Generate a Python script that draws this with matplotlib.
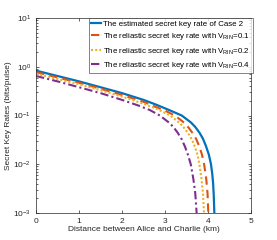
import matplotlib

matplotlib.use("Agg")
import matplotlib.pyplot as plt

plt.rcParams["font.family"] = ["Liberation Sans", "DejaVu Sans"]
plt.rcParams["mathtext.fontset"] = "custom"
plt.rcParams["mathtext.rm"] = "Liberation Sans"
plt.rcParams["mathtext.it"] = "Liberation Sans:italic"

# values (distance in km, key rate in bits/pulse)
dist_case2 = [0, 0.5, 1.0, 1.5, 2.0, 2.5, 2.8, 3.1, 3.39, 3.6, 3.7, 3.8, 3.88, 3.95, 4.02, 4.07,
              4.10, 4.12, 4.135, 4.15]
rate_case2 = [0.832, 0.646, 0.501, 0.380, 0.288, 0.209, 0.166, 0.129, 0.100, 0.0724, 0.0589,
              0.0447, 0.0339, 0.0240, 0.0158, 0.0100, 0.0063, 0.0040, 0.00224, 0.00089]

dist_rin01 = [0, 0.5, 1.0, 1.5, 2.0, 2.5, 2.8, 3.0, 3.23, 3.45, 3.55, 3.65, 3.73, 3.8, 3.86,
              3.91, 3.96, 3.99, 4.01]
rate_rin01 = [0.776, 0.603, 0.468, 0.355, 0.263, 0.191, 0.148, 0.126, 0.100, 0.0708, 0.0562,
              0.0427, 0.0324, 0.0229, 0.0158, 0.0100, 0.0050, 0.0025, 0.00089]

dist_rin02 = [0, 0.5, 1.0, 1.5, 2.0, 2.5, 2.8, 3.12, 3.35, 3.45, 3.55, 3.63, 3.7, 3.76, 3.8,
              3.85, 3.885, 3.91]
rate_rin02 = [0.724, 0.562, 0.437, 0.331, 0.245, 0.174, 0.138, 0.100, 0.0692, 0.0550, 0.0417,
              0.0316, 0.0224, 0.0151, 0.0100, 0.0050, 0.0025, 0.00089]

dist_rin04 = [0, 0.5, 1.0, 1.5, 2.0, 2.4, 2.65, 2.88, 3.1, 3.2, 3.3, 3.39, 3.47, 3.54, 3.6,
              3.66, 3.705, 3.74]
rate_rin04 = [0.646, 0.501, 0.380, 0.288, 0.209, 0.158, 0.129, 0.100, 0.0708, 0.0575, 0.0437,
              0.0324, 0.0224, 0.0151, 0.0100, 0.0050, 0.0025, 0.00089]

labels = [
    "The estimated secret key rate of Case 2",
    r"The reliastic secret key rate with V$_{\rm RIN}$=0.1",
    r"The reliastic secret key rate with V$_{\rm RIN}$=0.2",
    r"The reliastic secret key rate with V$_{\rm RIN}$=0.4",
]

fig = plt.figure(figsize=(2.77, 2.4), dpi=100)
ax = fig.add_axes([0.130, 0.1125, 0.776, 0.8125])

ax.plot(dist_case2, rate_case2, color="#0072BD", lw=1.6, ls="-", label=labels[0])
ax.plot(dist_rin01, rate_rin01, color="#D95319", lw=1.5, ls=(0, (4, 2.5)), label=labels[1])
ax.plot(dist_rin02, rate_rin02, color="#EDB120", lw=1.5, ls=(0, (1, 1)), label=labels[2])
ax.plot(dist_rin04, rate_rin04, color="#7E2F8E", lw=1.5, ls=(0, (4, 1.5, 1, 1.5)), label=labels[3])

ax.set_yscale("log")
ax.set_xlim(0, 5)
ax.set_ylim(1e-3, 1e1)
ax.set_xticks([0, 1, 2, 3, 4, 5])
ax.tick_params(which="both", direction="in", top=True, right=True, labelsize=6,
               colors="#262626", width=0.5)
ax.tick_params(which="major", length=2.5)
ax.tick_params(which="minor", length=1.5)
for s in ax.spines.values():
    s.set_linewidth(0.5)
    s.set_color("#262626")

ax.set_xlabel("Distance between Alice and Charlie (km)", fontsize=6, color="#262626", labelpad=1)
ax.set_ylabel("Secret Key Rates (bits/pulse)", fontsize=6, color="#262626", labelpad=1)

leg = ax.legend(loc="upper right", bbox_to_anchor=(1.008, 1.0), fontsize=5.7, frameon=True,
                fancybox=False, edgecolor="#262626", handlelength=1.3, handletextpad=0.25,
                borderpad=0.3, labelspacing=0.42, borderaxespad=0.0)
leg.get_frame().set_linewidth(0.5)

fig.savefig("out.png", dpi=100)
